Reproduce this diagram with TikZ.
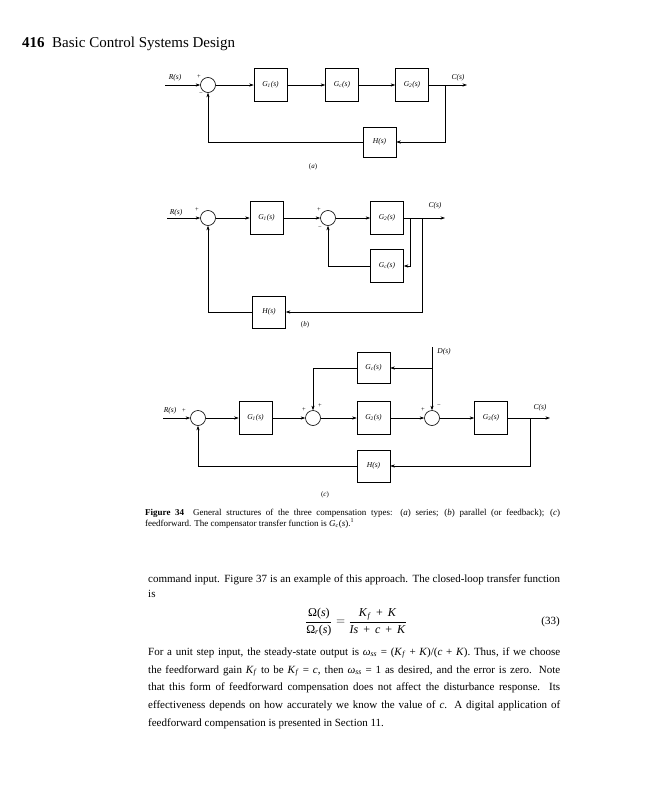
\documentclass[tikz,border=0pt]{standalone}
\usepackage{fontspec}
\setmainfont{Liberation Serif}
\usetikzlibrary{arrows.meta,calc}
\begin{document}
\begin{tikzpicture}[x=1pt,y=-1pt,
  blk/.style={draw,line width=0.6pt,minimum width=33pt,minimum height=33pt,inner sep=0pt,font=\fontsize{7.5}{8}\selectfont\itshape},
  sumj/.style={draw,circle,line width=0.6pt,minimum size=15pt,inner sep=0pt},
  lab/.style={font=\fontsize{7.5}{8}\selectfont\itshape,inner sep=0pt},
  sgn/.style={font=\fontsize{6.5}{7}\selectfont,inner sep=0pt},
  ar/.style={-{Stealth[length=4.5pt,width=3.2pt]},line width=0.6pt},
  ln/.style={line width=0.6pt},
  body/.style={anchor=base west,inner sep=0pt,font=\fontsize{11}{13}\selectfont},
  capt/.style={anchor=base west,inner sep=0pt,font=\fontsize{9}{11}\selectfont}]
\useasboundingbox[fill=white] (0,0) rectangle (647,800);

% header
\node[anchor=base west,inner sep=0pt,font=\fontsize{15}{17}\selectfont\bfseries] (pg) at (22,48) {416};
\node[anchor=base west,inner sep=0pt,font=\fontsize{15}{17}\selectfont] (ttl) at (52,48) {Basic Control Systems Design};

% ---------- (a) ----------
\coordinate (ain) at (165,85);
\node[sumj] (sa) at (208,85) {};
\node[blk] (ga1) at (270.5,85) {G\textsubscript{1}(s)};
\node[blk] (gca) at (342,85) {G\textsubscript{c}(s)};
\node[blk] (ga2) at (412,85) {G\textsubscript{2}(s)};
\coordinate (abr) at (445,85);
\coordinate (aout) at (467,85);
\node[blk,minimum height=30pt] (ha) at (379.5,142) {H(s)};
\draw[ar] (ain) -- (sa);
\draw[ar] (sa) -- (ga1);
\draw[ar] (ga1) -- (gca);
\draw[ar] (gca) -- (ga2);
\draw[ln] (ga2) -- (abr);
\draw[ar] (abr) -- (aout);
\draw[ar] (abr) |- (ha);
\draw[ar] (ha) -| (sa);
\node[lab] (ra) at (175,78) {R(s)};
\node[lab] (ca) at (458,78) {C(s)};
\node[sgn] (pa1) at (199,77) {+};
\node[sgn] (ma1) at (201,94) {−};
\node[lab,font=\fontsize{7}{8}\selectfont] (la) at (313,167) {(\textit{a})};

% ---------- (b) ----------
\coordinate (bin) at (167,218);
\node[sumj] (sb1) at (208,218) {};
\node[blk] (gb1) at (266.5,218) {G\textsubscript{1}(s)};
\node[sumj] (sb2) at (328,218) {};
\node[blk] (gb2) at (387,218) {G\textsubscript{2}(s)};
\coordinate (bb1) at (410,218);
\coordinate (bb2) at (422,218);
\coordinate (bout) at (445,218);
\node[blk] (gcb) at (387,266) {G\textsubscript{c}(s)};
\node[blk,minimum height=32pt] (hb) at (269,312) {H(s)};
\draw[ar] (bin) -- (sb1);
\draw[ar] (sb1) -- (gb1);
\draw[ar] (gb1) -- (sb2);
\draw[ar] (sb2) -- (gb2);
\draw[ln] (gb2) -- (bb2);
\draw[ar] (bb2) -- (bout);
\draw[ar] (bb1) |- (gcb);
\draw[ar] (gcb) -| (sb2);
\draw[ar] (bb2) |- (hb);
\draw[ar] (hb) -| (sb1);
\node[lab] (rb) at (176,213) {R(s)};
\node[lab] (cb) at (435,206) {C(s)};
\node[sgn] (pb1) at (197,210) {+};
\node[sgn] (pb2) at (319,210) {+};
\node[sgn] (mb2) at (320,228) {−};
\node[lab,font=\fontsize{7}{8}\selectfont] (lb) at (305,325) {(\textit{b})};

% ---------- (c) ----------
\coordinate (cin) at (163,418);
\node[sumj] (sc1) at (198,418) {};
\node[blk] (gc1) at (255.5,418) {G\textsubscript{1}(s)};
\node[sumj] (sc2) at (313,418) {};
\node[blk] (gc2) at (373.5,418) {G\textsubscript{2}(s)};
\node[sumj] (sc3) at (432,418) {};
\node[blk] (gc3) at (491,418) {G\textsubscript{3}(s)};
\coordinate (cbr) at (530,418);
\coordinate (cout) at (550,418);
\coordinate (dtop) at (432,347);
\coordinate (dj) at (432,368);
\node[blk,minimum height=31pt] (gcc) at (373.5,368) {G\textsubscript{c}(s)};
\node[blk,minimum height=32pt] (hc) at (373.5,466) {H(s)};
\draw[ar] (cin) -- (sc1);
\draw[ar] (sc1) -- (gc1);
\draw[ar] (gc1) -- (sc2);
\draw[ar] (sc2) -- (gc2);
\draw[ar] (gc2) -- (sc3);
\draw[ar] (sc3) -- (gc3);
\draw[ln] (gc3) -- (cbr);
\draw[ar] (cbr) -- (cout);
\draw[ln] (dtop) -- (dj);
\draw[ar] (dj) -- (sc3);
\draw[ar] (dj) -- (gcc);
\draw[ar] (gcc) -| (sc2);
\draw[ar] (cbr) |- (hc);
\draw[ar] (hc) -| (sc1);
\node[lab] (rc) at (170,411) {R(s)};
\node[sgn] (pc1) at (184,411) {+};
\node[lab] (dc) at (444,352) {D(s)};
\node[lab] (cc) at (540,408) {C(s)};
\node[sgn] (pc2) at (304,410) {+};
\node[sgn] (pc3) at (320,406) {+};
\node[sgn] (pc4) at (423,410) {+};
\node[sgn] (mc4) at (439,406) {−};
\node[lab,font=\fontsize{7}{8}\selectfont] (lc) at (325,495) {(\textit{c})};

% ---------- caption ----------
\node[capt] (cap1) at (145,515) {\makebox[415pt][s]{\textbf{Figure 34}\quad General structures of the three compensation types: (\textit{a}) series; (\textit{b}) parallel (or feedback); (\textit{c})}};
\node[capt] (cap2) at (145,526) {feedforward. The compensator transfer function is \textit{G\textsubscript{c}}(\textit{s}).\textsuperscript{1}};

% ---------- body ----------
\node[body] (t1) at (148,582) {\makebox[412pt][s]{command input. Figure 37 is an example of this approach. The closed-loop transfer function}};
\node[body] (t2) at (148,597) {is};
\node[inner sep=0pt,font=\fontsize{12}{14}\selectfont] (eq) at (356,622) {$\displaystyle\frac{\hbox{Ω(\textit{s})}}{\hbox{Ω\textsubscript{\textit{r}}(\textit{s})}} = \frac{\hbox{\textit{K}\textsubscript{\textit{f}}\ \,+\ \,\textit{K}}}{\hbox{\textit{Is}\ \,+\ \,\textit{c}\ \,+\ \,\textit{K}}}$};
\node[anchor=east,inner sep=0pt,font=\fontsize{11}{13}\selectfont] (eqn) at (560,622) {(33)};
\node[body] (t3) at (148,655) {\makebox[412pt][s]{For a unit step input, the steady-state output is \textit{ω}\textsubscript{\textit{ss}} = (\textit{K}\textsubscript{\textit{f}} + \textit{K})/(\textit{c} + \textit{K}). Thus, if we choose}};
\node[body] (t4) at (148,673) {\makebox[412pt][s]{the feedforward gain \textit{K}\textsubscript{\textit{f}} to be \textit{K}\textsubscript{\textit{f}} = \textit{c}, then \textit{ω}\textsubscript{\textit{ss}} = 1 as desired, and the error is zero. Note}};
\node[body] (t5) at (148,690) {\makebox[412pt][s]{that this form of feedforward compensation does not affect the disturbance response. Its}};
\node[body] (t6) at (148,708) {\makebox[412pt][s]{effectiveness depends on how accurately we know the value of \textit{c}. A digital application of}};
\node[body] (t7) at (148,726) {feedforward compensation is presented in Section 11.};
\end{tikzpicture}
\end{document}
